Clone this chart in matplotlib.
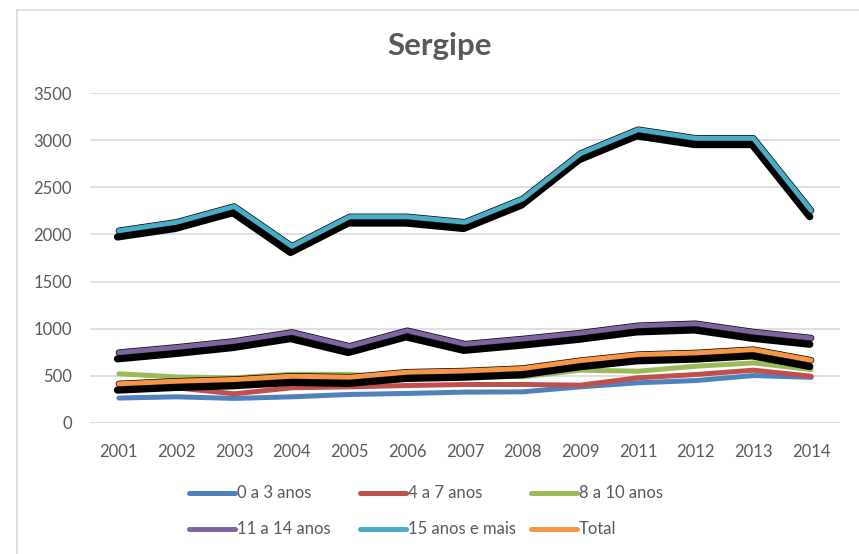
import matplotlib
matplotlib.use("Agg")
import matplotlib.pyplot as plt
import matplotlib.patheffects as pe
from matplotlib.lines import Line2D

# Data
years = ["2001", "2002", "2003", "2004", "2005", "2006", "2007",
         "2008", "2009", "2011", "2012", "2013", "2014"]
age_0_3 = [262, 275, 258, 275, 300, 311, 325, 328, 381, 424, 448, 501, 482]
age_4_7 = [350, 371, 307, 371, 381, 395, 406, 406, 399, 477, 512, 558, 494]
age_8_10 = [520, 487, 477, 515, 512, 477, 512, 487, 558, 547, 600, 635, 565]
age_11_14 = [745, 801, 865, 960, 812, 978, 835, 890, 953, 1031, 1052, 964, 900]
age_15_plus = [2040, 2130, 2298, 1875, 2188, 2188, 2130, 2378, 2860, 3114, 3022, 3022, 2255]
total = [413, 441, 459, 494, 484, 537, 550, 576, 660, 724, 742, 777, 664]

labels = ["0 a 3 anos", "4 a 7 anos", "8 a 10 anos",
          "11 a 14 anos", "15 anos e mais", "Total"]
colors = ["#4F81BD", "#C0504D", "#9BBB59", "#8064A2", "#4BACC6", "#F79646"]
series = [age_0_3, age_4_7, age_8_10, age_11_14, age_15_plus, total]
shadowed = [False, False, False, True, True, True]

plt.rcParams['font.family'] = ['Lato', 'DejaVu Sans']
grey = '#595959'
grid_c = '#D9D9D9'
W, H = 859, 554

fig = plt.figure(figsize=(W / 100, H / 100), dpi=100)
ax = fig.add_axes([90 / W, 1 - 422.7 / H, 750 / W, 329.4 / H])

lw = 3.6
x = list(range(len(years)))
for vals, col, sh in zip(series, colors, shadowed):
    line, = ax.plot(x, vals, color=col, linewidth=lw,
                    solid_capstyle='round', solid_joinstyle='round', zorder=3)
    if sh:
        # Excel-style dark shadow under the line
        line.set_path_effects([
            pe.Stroke(linewidth=lw + 1.6, foreground='black', offset=(-1, -4.5)),
            pe.Stroke(linewidth=lw + 1.0, foreground='black'),
            pe.Normal(),
        ])

ax.set_xlim(-0.5, len(years) - 0.5)
ax.set_ylim(0, 3500)
ax.set_yticks(range(0, 3501, 500))
ax.set_xticks(x)
ax.set_xticklabels(years)
ax.yaxis.grid(True, color=grid_c, linewidth=1.2)
ax.set_axisbelow(True)
for s in ax.spines.values():
    s.set_visible(False)
ax.tick_params(axis='both', length=0, labelsize=12, labelcolor=grey)
ax.tick_params(axis='y', pad=13)
ax.tick_params(axis='x', pad=15)

fig.text(440 / W, 1 - 55 / H, "Sergipe", ha='center', va='baseline',
         fontsize=22.5, fontweight='bold', color=grey)

# legend laid out like the Excel one: 3 columns, 2 rows
col_x = [189, 360, 531]
row_y = [493, 529]
for i, (lab, col) in enumerate(zip(labels, colors)):
    cx = col_x[i % 3]
    cy = row_y[i // 3]
    fig.add_artist(Line2D([cx / W, (cx + 46) / W], [1 - cy / H, 1 - cy / H],
                          color=col, linewidth=lw, solid_capstyle='round'))
    fig.text((cx + 48) / W, 1 - cy / H, lab, ha='left', va='center',
             fontsize=12, color=grey)

# outer chart border (left and top visible)
fig.add_artist(Line2D([17 / W, 17 / W], [0, 1 - 10 / H], color=grid_c, linewidth=1.2))
fig.add_artist(Line2D([17 / W, 1], [1 - 10 / H, 1 - 10 / H], color=grid_c, linewidth=1.2))

fig.savefig("out.png", dpi=100, facecolor='white')
